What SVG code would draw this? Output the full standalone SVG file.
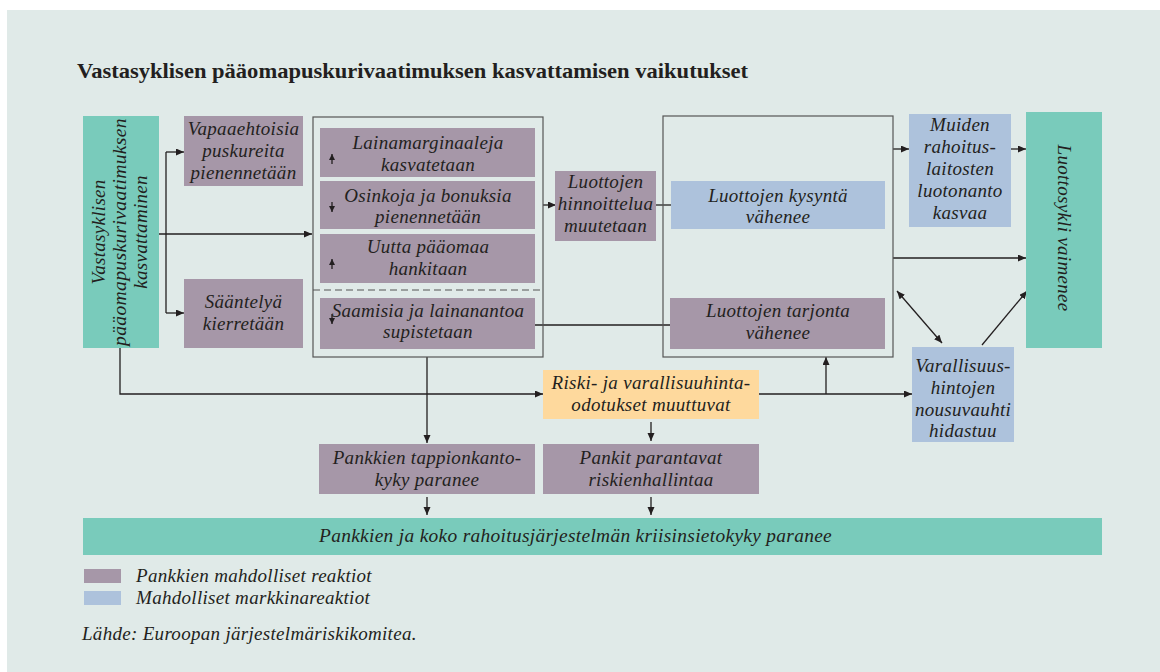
<svg xmlns="http://www.w3.org/2000/svg" width="1160" height="672" viewBox="0 0 1160 672">
  <defs>
    <marker id="arrow" markerUnits="userSpaceOnUse" markerWidth="9" markerHeight="8" refX="8" refY="3.5" orient="auto-start-reverse">
      <path d="M0,0 L8,3.5 L0,7 z" fill="#231f20"/>
    </marker>
    <marker id="tick" markerUnits="userSpaceOnUse" markerWidth="7" markerHeight="7" refX="6" refY="3" orient="auto">
      <path d="M0,0 L6,3 L0,6 z" fill="#231f20"/>
    </marker>
    <style>
      .t { font-family: "Liberation Serif", "DejaVu Serif", serif; font-style: italic; font-size: 19px; letter-spacing: 0.3px; fill: #231f20; text-anchor: middle; }
      .tl { font-family: "Liberation Serif", "DejaVu Serif", serif; font-style: italic; font-size: 19px; letter-spacing: 0.3px; fill: #231f20; }
      .title { font-family: "Liberation Serif", "DejaVu Serif", serif; font-weight: bold; font-size: 21px; fill: #231f20; }
      .bank { fill: #a697a8; }
      .market { fill: #adc2dc; }
      .teal { fill: #79cbbb; }
      .expect { fill: #fed99d; }
      .frame { fill: none; stroke: #555; stroke-width: 1.2; }
      .c { fill: none; stroke: #231f20; stroke-width: 1.3; }
      .ca { fill: none; stroke: #231f20; stroke-width: 1.3; marker-end: url(#arrow); }
      .mini { fill: none; stroke: #231f20; stroke-width: 1.3; marker-end: url(#tick); }
    </style>
  </defs>

  <!-- background panel -->
  <rect x="0" y="0" width="1160" height="672" fill="#ffffff"/>
  <rect x="7" y="10" width="1153" height="662" fill="#e0eae8"/>

  <text class="title" x="77" y="78" textLength="671" lengthAdjust="spacingAndGlyphs">Vastasyklisen pääomapuskurivaatimuksen kasvattamisen vaikutukset</text>

  <!-- connectors -->
  <g id="connectors">
    <path class="ca" d="M159,234 H312"/>
    <path class="c" d="M166,152 V313"/>
    <path class="ca" d="M166,152 H184"/>
    <path class="ca" d="M166,313 H184"/>
    <path class="ca" d="M543,205 H556"/>
    <path class="ca" d="M656,205 H681"/>
    <path class="ca" d="M535,325 H684"/>
    <path class="ca" d="M893,149 H909"/>
    <path class="ca" d="M1011,149 H1026"/>
    <path class="ca" d="M893,258 H1026"/>
    <path class="ca" d="M897,291 L942,343" marker-start="url(#arrow)"/>
    <path class="ca" d="M982,345 L1027,291"/>
    <path class="ca" d="M120,348 V394 H543"/>
    <path class="ca" d="M759,394 H912"/>
    <path class="ca" d="M826,394 V357"/>
    <path class="ca" d="M427,357 V443"/>
    <path class="ca" d="M651,422 V441"/>
    <path class="ca" d="M427,497 V515"/>
    <path class="ca" d="M651,497 V515"/>
  </g>

  <!-- left driver -->
  <g id="n-driver">
    <rect class="teal" x="83" y="116" width="76" height="232"/>
    <g transform="translate(121,232) rotate(-90)">
      <text class="t" x="0" y="-16">Vastasyklisen</text>
      <text class="t" x="0" y="5" textLength="228" lengthAdjust="spacingAndGlyphs">pääomapuskurivaatimuksen</text>
      <text class="t" x="0" y="26">kasvattaminen</text>
    </g>
  </g>

  <g id="n-buffers">
    <rect class="bank" x="184" y="116" width="119" height="70"/>
    <text class="t" x="243.5" y="135">Vapaaehtoisia</text>
    <text class="t" x="243.5" y="157">puskureita</text>
    <text class="t" x="243.5" y="179">pienennetään</text>
  </g>

  <g id="n-regulation">
    <rect class="bank" x="184" y="279" width="119" height="69"/>
    <text class="t" x="243.5" y="308">Sääntelyä</text>
    <text class="t" x="243.5" y="330">kierretään</text>
  </g>

  <!-- bank reactions frame -->
  <g id="n-bank-actions">
    <rect class="frame" x="313" y="117" width="230" height="240"/>
    <path d="M313,290 H543" stroke="#555" stroke-width="1.2" stroke-dasharray="7,4"/>
  </g>

  <g id="n-margins">
    <rect class="bank" x="320" y="128" width="215" height="49"/>
    <path class="mini" d="M332,164 V154"/>
    <text class="t" x="428" y="149">Lainamarginaaleja</text>
    <text class="t" x="428" y="171">kasvatetaan</text>
  </g>

  <g id="n-dividends">
    <rect class="bank" x="320" y="181" width="215" height="48"/>
    <path class="mini" d="M332,202 V212"/>
    <text class="t" x="428" y="202">Osinkoja ja bonuksia</text>
    <text class="t" x="428" y="223">pienennetään</text>
  </g>

  <g id="n-capital">
    <rect class="bank" x="320" y="234" width="215" height="49"/>
    <path class="mini" d="M332,269 V259"/>
    <text class="t" x="428" y="253">Uutta pääomaa</text>
    <text class="t" x="428" y="275">hankitaan</text>
  </g>

  <g id="n-lending-cut">
    <rect class="bank" x="320" y="298" width="215" height="51"/>
    <path class="mini" d="M332,314 V324"/>
    <text class="t" x="428" y="317">Saamisia ja lainanantoa</text>
    <text class="t" x="428" y="338">supistetaan</text>
  </g>

  <g id="n-pricing">
    <rect class="bank" x="555" y="171" width="101" height="70"/>
    <text class="t" x="605.5" y="188">Luottojen</text>
    <text class="t" x="605.5" y="210">hinnoittelua</text>
    <text class="t" x="605.5" y="232">muutetaan</text>
  </g>

  <!-- credit market frame -->
  <g id="n-credit">
    <rect class="frame" x="663" y="116" width="230" height="241"/>
  </g>

  <g id="n-demand">
    <rect class="market" x="671" y="181" width="214" height="48"/>
    <text class="t" x="778" y="202">Luottojen kysyntä</text>
    <text class="t" x="778" y="223">vähenee</text>
  </g>

  <g id="n-supply">
    <rect class="bank" x="670" y="298" width="215" height="51"/>
    <text class="t" x="778" y="317">Luottojen tarjonta</text>
    <text class="t" x="778" y="339">vähenee</text>
  </g>

  <g id="n-other-lenders">
    <rect class="market" x="909" y="114" width="102" height="113"/>
    <text class="t" x="960" y="131">Muiden</text>
    <text class="t" x="960" y="153">rahoitus-</text>
    <text class="t" x="960" y="175">laitosten</text>
    <text class="t" x="960" y="197">luotonanto</text>
    <text class="t" x="960" y="219">kasvaa</text>
  </g>

  <g id="n-cycle">
    <rect class="teal" x="1026" y="112" width="76" height="236"/>
    <text class="t" transform="translate(1058,228) rotate(90)" x="0" y="0">Luottosykli vaimenee</text>
  </g>

  <g id="n-asset-prices">
    <rect class="market" x="912" y="347" width="102" height="95"/>
    <text class="t" x="963" y="372">Varallisuus-</text>
    <text class="t" x="963" y="394">hintojen</text>
    <text class="t" x="963" y="416">nousuvauhti</text>
    <text class="t" x="963" y="437">hidastuu</text>
  </g>

  <g id="n-expectations">
    <rect class="expect" x="543" y="370" width="216" height="49"/>
    <text class="t" x="651" y="389">Riski- ja varallisuuhinta-</text>
    <text class="t" x="651" y="411">odotukset muuttuvat</text>
  </g>

  <g id="n-loss-capacity">
    <rect class="bank" x="319" y="444" width="216" height="50"/>
    <text class="t" x="427" y="464">Pankkien tappionkanto-</text>
    <text class="t" x="427" y="486">kyky paranee</text>
  </g>

  <g id="n-risk-mgmt">
    <rect class="bank" x="543" y="444" width="216" height="50"/>
    <text class="t" x="651" y="464">Pankit parantavat</text>
    <text class="t" x="651" y="486">riskienhallintaa</text>
  </g>

  <g id="n-resilience">
    <rect class="teal" x="83" y="518" width="1019" height="37"/>
    <text class="tl" x="319" y="542" textLength="513" lengthAdjust="spacingAndGlyphs">Pankkien ja koko rahoitusjärjestelmän kriisinsietokyky paranee</text>
  </g>

  <!-- legend -->
  <g id="legend">
    <rect class="bank" x="84" y="569" width="37" height="14"/>
    <text class="tl" x="136" y="582">Pankkien mahdolliset reaktiot</text>
    <rect class="market" x="84" y="591" width="37" height="14"/>
    <text class="tl" x="136" y="604">Mahdolliset markkinareaktiot</text>
  </g>

  <text class="tl" x="82" y="640">Lähde: Euroopan järjestelmäriskikomitea.</text>
</svg>
